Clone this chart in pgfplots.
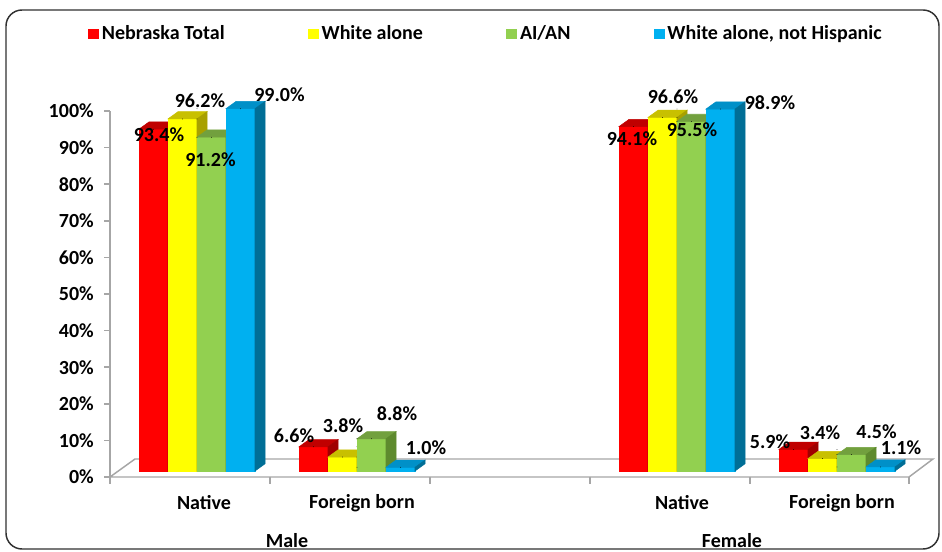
\documentclass[border=0pt]{standalone}
\usepackage{pgfplots}
\pgfplotsset{compat=1.18}
\usepackage{fontspec}
\setmainfont{Carlito}
\definecolor{cRed}{HTML}{FF0000}
\definecolor{cRedT}{HTML}{C00000}
\definecolor{cRedS}{HTML}{A00000}
\definecolor{cYel}{HTML}{FFFF00}
\definecolor{cYelT}{HTML}{C8C000}
\definecolor{cYelS}{HTML}{A8A000}
\definecolor{cGrn}{HTML}{92D050}
\definecolor{cGrnT}{HTML}{72A03E}
\definecolor{cGrnS}{HTML}{5E8A2E}
\definecolor{cBlu}{HTML}{00B0F0}
\definecolor{cBluT}{HTML}{0090C8}
\definecolor{cBluS}{HTML}{006E96}
\definecolor{axgray}{HTML}{A6A6A6}
\definecolor{framec}{HTML}{303030}

\pgfplotsset{
  front/.style n args={2}{ybar, bar width=21.75pt, bar shift=#1pt, fill=#2, draw=none,
     legend image code/.code={\fill[#2] (0pt,-4.1pt) rectangle (8.25pt,4.1pt);}},
  faces/.style n args={4}{scatter, only marks, mark=*, mark size=0.01pt,
     mark options={draw=none, fill=none}, forget plot,
     visualization depends on={rawy \as \ry},
     scatter/@pre marker code/.code={%
        \pgfmathsetmacro\hh{\ry*2.745}%
        \pgfmathsetmacro\xl{#1-10.875}%
        \pgfmathsetmacro\xr{#1+10.875}%
        \pgfmathsetmacro\xlb{\xl+7.5}%
        \pgfmathsetmacro\xrb{\xr+7.5}%
        \pgfmathsetmacro\hb{5.4-\hh}%
        \fill[#4] (\xl pt,-\hh pt) rectangle (\xr pt,0pt);
        \fill[#2] (\xl pt,0pt) -- (\xr pt,0pt) -- (\xrb pt,5.4pt) -- (\xlb pt,5.4pt) -- cycle;
        \fill[#3] (\xr pt,0pt) -- (\xrb pt,5.4pt) -- (\xrb pt,\hb pt) -- (\xr pt,-\hh pt) -- cycle;
        \begin{scope}},
     scatter/@post marker code/.code={\end{scope}}
  },
}

\pgfplotstableread{
x y
0 93.4
1 6.6
3 94.1
4 5.9
}\dataR
\pgfplotstableread{
x y
0 96.2
1 3.8
3 96.6
4 3.4
}\dataY
\pgfplotstableread{
x y
0 91.2
1 8.8
3 95.5
4 4.5
}\dataG
\pgfplotstableread{
x y
0 99.0
1 1.0
3 98.9
4 1.1
}\dataB
\pgfplotstableread{
x y lx ly
-0.271875 93.4 5.5 -5.8
-0.090625 96.2 17.5 17.9
0.090625 91.2 -1 -22.8
0.271875 99.0 39 13.7
0.728125 6.6 -19.5 10.8
0.909375 3.8 0.5 31.1
1.090625 8.8 25.5 24.8
1.271875 1.0 25.5 19.8
2.728125 94.1 -1.5 -11.9
2.909375 96.6 10.5 20.4
3.090625 95.5 0.5 -8.5
3.271875 98.9 49.5 6.5
3.728125 5.9 -23.5 7.4
3.909375 3.4 -2.5 26.1
4.090625 4.5 25 23
4.271875 1.1 20.5 19.5
}\dataL

\begin{document}
\fontsize{15pt}{18pt}\selectfont\bfseries
\begin{tikzpicture}
\begin{scope}[yshift=414pt, x=0.75pt, y=-0.75pt]
 \draw[line width=1.1pt, rounded corners=12pt, framec] (6,10) rectangle (939,549);
 \filldraw[fill=white, draw=axgray, line width=1.1pt] (110,477) -- (909,477) -- (933,459) -- (135,459) -- cycle;
 \foreach \t in {110,270,430,590,750,909} \draw[axgray, line width=1.1pt] (\t,477) -- (\t,484);
\end{scope}

\begin{axis}[at={(82.5pt,56.25pt)}, anchor=south west, scale only axis,
  width=600pt, height=274.5pt,
  xmin=0, xmax=1, ymin=0, ymax=100,
  axis y line*=left, axis x line=none,
  y axis line style={axgray, line width=1.1pt},
  ytick={0,10,20,30,40,50,60,70,80,90,100},
  yticklabels={0\%,10\%,20\%,30\%,40\%,50\%,60\%,70\%,80\%,90\%,100\%},
  ytick style={axgray, line width=1.1pt}, tick align=outside, major tick length=4.5pt,
  yticklabel style={anchor=east, inner sep=0pt, xshift=-7.5pt}]
\end{axis}

\begin{axis}[at={(82.5pt,60.75pt)}, anchor=south west, scale only axis,
  width=600pt, height=274.5pt,
  xmin=-0.54375, xmax=4.45625, ymin=0, ymax=100, clip=false,
  axis x line*=bottom, axis y line=none, axis line style={draw=none},
  ytick=\empty,
  xtick={0.04375,1.03125,3.03125,4.03125},
  xticklabels={Native,Foreign born,Native,Foreign born},
  xtick style={draw=none},
  xticklabel style={anchor=center, inner sep=0pt, yshift=-24pt},
  extra x ticks={0.5625,3.34375},
  extra x tick labels={Male,Female},
  extra x tick style={xticklabel style={yshift=-28.5pt}},
  legend columns=4,
  legend style={at={(-0.0275,1.194)}, anchor=west, draw=none, fill=none, inner sep=0pt,
    /tikz/every even column/.append style={column sep=60.5pt}},
  /pgf/number format/assume math mode=true,
]
\addplot[front={-32.625}{cRed}] table {\dataR};
\addlegendentry{Nebraska Total}
\addplot[front={-10.875}{cYel}] table {\dataY};
\addlegendentry{White alone}
\addplot[front={10.875}{cGrn}] table {\dataG};
\addlegendentry{AI/AN}
\addplot[front={32.625}{cBlu}] table {\dataB};
\addlegendentry{White alone, not Hispanic}
\addplot[faces={-32.625}{cRedT}{cRedS}{cRed}] table {\dataR};
\addplot[faces={-10.875}{cYelT}{cYelS}{cYel}] table {\dataY};
\addplot[faces={10.875}{cGrnT}{cGrnS}{cGrn}] table {\dataG};
\addplot[faces={32.625}{cBluT}{cBluS}{cBlu}] table {\dataB};
\addplot[only marks, mark=*, mark size=0.01pt, mark options={draw=none, fill=none}, forget plot,
  point meta=y,
  visualization depends on={\thisrow{lx} \as \lx},
  visualization depends on={\thisrow{ly} \as \ly},
  nodes near coords={\pgfmathprintnumber[fixed,fixed zerofill,precision=1]{\pgfplotspointmeta}\%},
  every node near coord/.append style={anchor=center, inner sep=0pt, black,
    xshift=\lx*0.75pt, yshift=\ly*0.75pt}]
  table[x=x,y=y] {\dataL};
\end{axis}
\pgfresetboundingbox
\path[use as bounding box] (0,0) rectangle (706.5pt,414pt);
\end{tikzpicture}
\end{document}
